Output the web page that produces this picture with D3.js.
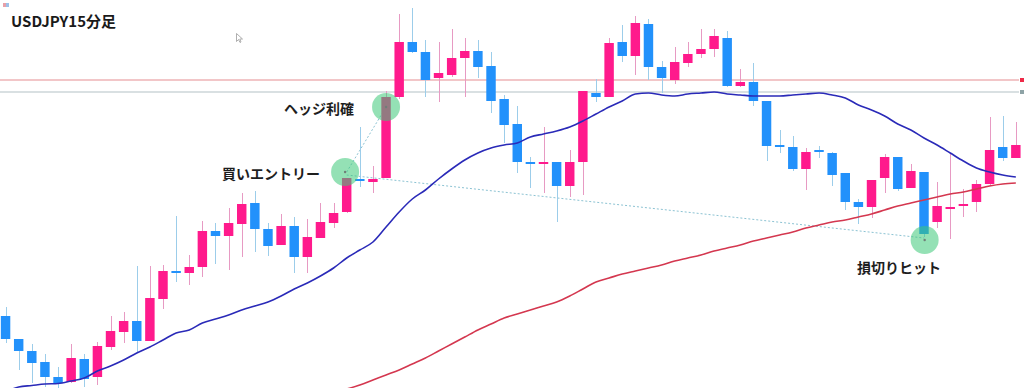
<!DOCTYPE html>
<html>
<head>
<meta charset="utf-8">
<script src="https://cdn.jsdelivr.net/npm/d3@7"></script>
<style>
  html, body { margin: 0; padding: 0; background: #fff; }
  #chart { width: 1024px; height: 388px; font-family: "Noto Sans CJK JP", "Noto Sans", sans-serif; }
</style>
</head>
<body>
<div id="chart"></div>
<script>
// USDJPY 15-minute candles (open, high, low, close)
const opens  = [109.768,109.722,109.698,109.676,109.646,109.636,109.682,109.646,109.706,109.736,
                109.758,109.718,109.802,109.858,109.854,109.866,109.938,109.928,109.952,109.994,
                109.942,109.910,109.948,109.886,109.924,109.954,109.976,110.042,110.036,110.044,
                110.206,110.316,110.296,110.244,110.250,110.284,110.298,110.268,110.202,110.152,
                110.076,110.072,110.076,110.028,110.076,110.214,110.206,110.316,110.288,110.352,
                110.266,110.240,110.274,110.292,110.302,110.324,110.228,110.236,110.198,110.110,
                110.106,110.062,110.100,110.094,110.054,109.996,109.986,110.044,110.086,110.024,
                110.056,109.956,109.984,109.990,109.996,110.032,110.106,110.084];
const highs  = [109.786,109.722,109.712,109.692,109.666,109.712,109.692,109.716,109.768,109.776,
                109.868,109.868,109.870,109.968,109.890,109.958,109.954,109.984,110.014,110.018,
                109.954,109.972,109.966,109.962,109.994,109.994,110.044,110.146,110.068,110.218,
                110.372,110.384,110.320,110.316,110.342,110.324,110.320,110.296,110.210,110.188,
                110.086,110.146,110.076,110.100,110.218,110.242,110.324,110.350,110.368,110.362,
                110.278,110.306,110.316,110.342,110.342,110.338,110.262,110.274,110.198,110.140,
                110.128,110.104,110.108,110.096,110.054,110.002,110.040,110.092,110.086,110.072,
                110.056,110.036,110.094,110.022,110.040,110.166,110.168,110.156];
const lows   = [109.714,109.660,109.634,109.626,109.624,109.634,109.626,109.630,109.700,109.714,
                109.694,109.718,109.782,109.836,109.830,109.846,109.872,109.860,109.886,109.896,
                109.888,109.910,109.854,109.854,109.924,109.944,109.974,110.026,110.014,110.044,
                110.202,110.294,110.206,110.196,110.246,110.206,110.244,110.174,110.114,110.054,
                110.024,110.014,109.956,110.006,110.010,110.196,110.206,110.276,110.250,110.240,
                110.214,110.232,110.266,110.284,110.286,110.226,110.226,110.188,110.078,110.094,
                110.058,110.020,110.084,110.028,109.980,109.952,109.964,110.014,110.018,110.024,
                109.926,109.944,109.922,109.966,109.976,110.028,110.078,110.084];
const closes = [109.722,109.698,109.674,109.646,109.634,109.684,109.642,109.708,109.738,109.758,
                109.718,109.804,109.858,109.854,109.866,109.938,109.928,109.954,109.992,109.942,
                109.908,109.948,109.886,109.926,109.956,109.974,110.044,110.038,110.042,110.206,
                110.316,110.296,110.240,110.254,110.284,110.298,110.266,110.198,110.150,110.076,
                110.072,110.076,110.028,110.076,110.218,110.206,110.314,110.288,110.354,110.266,
                110.244,110.276,110.292,110.302,110.328,110.228,110.236,110.198,110.108,110.106,
                110.062,110.096,110.096,110.050,109.996,109.986,110.040,110.086,110.022,110.058,
                109.932,109.988,109.986,109.992,110.032,110.100,110.084,110.110];

// short moving average (blue), one value per candle
const maShort = [109.616,109.626,109.629,109.632,109.633,109.638,109.644,109.658,109.668,109.680,
                 109.694,109.706,109.720,109.734,109.740,109.754,109.762,109.770,109.780,109.788,
                 109.796,109.808,109.822,109.834,109.848,109.864,109.884,109.900,109.916,109.946,
                 109.976,110.002,110.020,110.042,110.062,110.080,110.094,110.104,110.110,110.114,
                 110.126,110.132,110.138,110.146,110.158,110.172,110.186,110.198,110.212,110.214,
                 110.210,110.208,110.212,110.214,110.216,110.212,110.210,110.208,110.208,110.208,
                 110.210,110.212,110.214,110.210,110.204,110.190,110.180,110.168,110.152,110.140,
                 110.124,110.110,110.094,110.078,110.064,110.056,110.050,110.046];
// long moving average (red), visible from candle 26
const maLongStart = 26;
const maLong = [109.622,109.630,109.640,109.650,109.660,109.672,109.684,109.698,109.712,109.726,
                109.740,109.752,109.764,109.772,109.780,109.788,109.796,109.808,109.822,109.836,
                109.844,109.852,109.858,109.864,109.870,109.878,109.884,109.890,109.898,109.904,
                109.910,109.918,109.924,109.930,109.936,109.944,109.950,109.956,109.960,109.966,
                109.972,109.980,109.988,109.994,110.000,110.006,110.012,110.016,110.022,110.028,
                110.032,110.034];

// horizontal levels
const levels = [
  { price: 110.240, color: '#f2c6c8', mark: '#ee2a48', width: 2 },
  { price: 110.216, color: '#cdd6d8', mark: '#8ea3a6', width: 1.5 },
];

// trade annotations: [candle index, price]
const entry = { i: 26, price: 110.056, label: '買いエントリー' };
const takeProfit = { i: 29, price: 110.186, label: 'ヘッジ利確' };
const stopHit = { i: 70, price: 109.924, label: '損切りヒット' };

const title = 'USDJPY15分足';

const width = 1024;
const height = 388;

const candles = opens.map((o, i) => ({ i: i, o: o, h: highs[i], l: lows[i], c: closes[i] }));

const svg = d3.select('#chart')
  .append('svg')
  .attr('width', width)
  .attr('height', height);

const x = d3.scaleBand()
  .domain(candles.map(d => d.i))
  .range([-1, 1022.4])
  .paddingInner(0.28)
  .paddingOuter(0.14);
const cx = i => x(i) + x.bandwidth() / 2;

const y = d3.scaleLinear()
  .domain([109.624, 110.400])
  .range([height, 0]);

const UP = '#ff1a8c';
const DOWN = '#2291fb';

// horizontal price lines
levels.forEach(lv => {
  svg.append('line')
    .attr('x1', 0).attr('x2', 1019)
    .attr('y1', y(lv.price)).attr('y2', y(lv.price))
    .attr('stroke', lv.color)
    .attr('stroke-width', lv.width);
  svg.append('rect')
    .attr('x', 1020).attr('y', y(lv.price) - 2)
    .attr('width', 4).attr('height', 4)
    .attr('fill', lv.mark);
});

// dotted trade lines
const dotted = svg.append('g')
  .attr('stroke', '#8cc3d3')
  .attr('stroke-width', 1)
  .attr('stroke-dasharray', '2,2');
dotted.append('line')
  .attr('x1', cx(entry.i)).attr('y1', y(entry.price))
  .attr('x2', cx(takeProfit.i)).attr('y2', y(takeProfit.price));
dotted.append('line')
  .attr('x1', cx(entry.i)).attr('y1', y(entry.price) + 3)
  .attr('x2', cx(stopHit.i)).attr('y2', y(stopHit.price));

// candles
const cg = svg.append('g');
cg.selectAll('.wick')
  .data(candles)
  .enter().append('line')
  .attr('class', 'wick')
  .attr('x1', d => Math.round(cx(d.i)) + 0.5)
  .attr('x2', d => Math.round(cx(d.i)) + 0.5)
  .attr('y1', d => y(d.h))
  .attr('y2', d => y(d.l))
  .attr('stroke', d => d.c >= d.o ? '#e79ac3' : '#9ccdea')
  .attr('stroke-width', 1);

cg.selectAll('.body')
  .data(candles)
  .enter().append('rect')
  .attr('class', 'body')
  .attr('x', d => x(d.i))
  .attr('width', x.bandwidth())
  .attr('y', d => y(Math.max(d.o, d.c)))
  .attr('height', d => Math.max(2, Math.abs(y(d.o) - y(d.c))))
  .attr('fill', d => d.c >= d.o ? UP : DOWN);

// moving averages
const line = d3.line()
  .x(d => cx(d.i))
  .y(d => y(d.v))
  .curve(d3.curveMonotoneX);

svg.append('path')
  .datum(maLong.map((v, k) => ({ i: k + maLongStart, v: v })))
  .attr('fill', 'none')
  .attr('stroke', '#d4374f')
  .attr('stroke-width', 1.6)
  .attr('d', line);

svg.append('path')
  .datum(maShort.map((v, i) => ({ i: i, v: v })))
  .attr('fill', 'none')
  .attr('stroke', '#2a2ab8')
  .attr('stroke-width', 1.6)
  .attr('d', line);

// highlight circles
const marks = [
  { i: entry.i - 0.12, price: entry.price },
  { i: takeProfit.i, price: takeProfit.price },
  { i: stopHit.i + 0.05, price: stopHit.price - 0.004 },
];
svg.selectAll('.hl')
  .data(marks)
  .enter().append('circle')
  .attr('class', 'hl')
  .attr('cx', d => cx(Math.floor(d.i)) + (d.i - Math.floor(d.i)) * x.step())
  .attr('cy', d => y(d.price))
  .attr('r', 14)
  .attr('fill', 'rgb(60,200,120)')
  .attr('fill-opacity', 0.55);
svg.selectAll('.hlDot')
  .data(marks)
  .enter().append('circle')
  .attr('cx', d => cx(Math.floor(d.i)) + (d.i - Math.floor(d.i)) * x.step())
  .attr('cy', d => y(d.price))
  .attr('r', 1.2)
  .attr('fill', '#6f7f78');

// labels
const labels = svg.append('g')
  .attr('font-size', '14px')
  .attr('font-weight', 'bold')
  .attr('fill', '#1e1e1e')
  .attr('dominant-baseline', 'central');
labels.append('text')
  .attr('x', 284).attr('y', y(takeProfit.price) + 1)
  .text(takeProfit.label);
labels.append('text')
  .attr('x', 222).attr('y', y(entry.price) + 1)
  .text(entry.label);
labels.append('text')
  .attr('x', 857).attr('y', 267)
  .text(stopHit.label);

// title
svg.append('text')
  .attr('x', 11).attr('y', 27)
  .attr('font-size', '15px')
  .attr('font-weight', 'bold')
  .attr('fill', '#1a1a1a')
  .text(title);

// tiny corner icon and mouse pointer from the screenshot
svg.append('rect').attr('x', 3).attr('y', 3).attr('width', 3).attr('height', 4).attr('fill', '#e8a0a8');
svg.append('rect').attr('x', 6).attr('y', 3).attr('width', 3).attr('height', 4).attr('fill', '#9cc0e8');
svg.append('path')
  .attr('d', 'M236.5,33.5 L236.5,41.5 L238.5,39.5 L240,42.5 L241,42 L239.8,39 L242.5,39 Z')
  .attr('fill', '#fff')
  .attr('stroke', '#9a9a9a')
  .attr('stroke-width', 0.8);
</script>
</body>
</html>
